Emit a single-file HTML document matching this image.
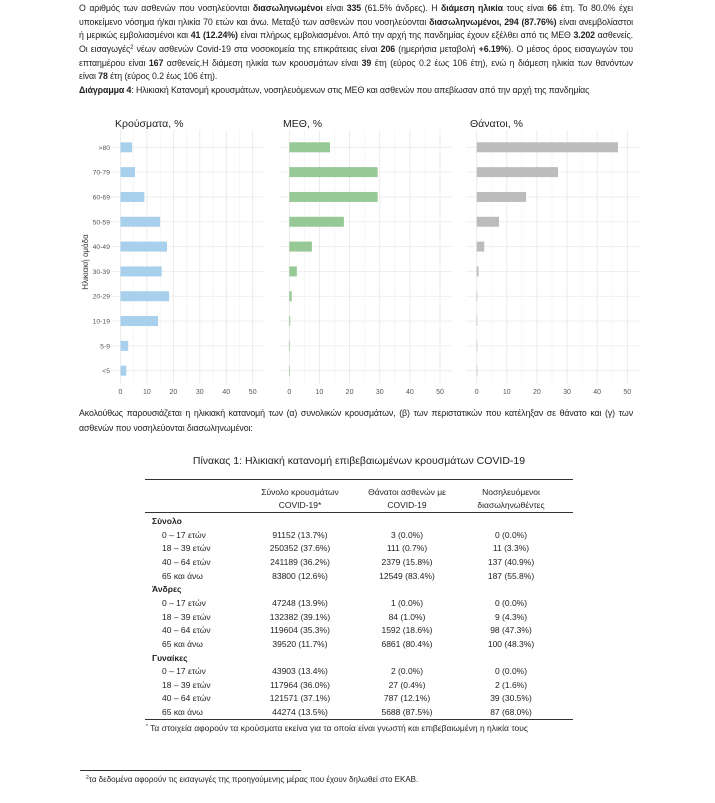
<!DOCTYPE html>
<html><head><meta charset="utf-8">
<style>
body{margin:0;width:715px;height:803px;background:#fff;position:relative;overflow:hidden;font-family:"Liberation Sans","DejaVu Sans",sans-serif;color:#222}
.ln{position:absolute;left:79px;width:554px;font-size:8.8px;line-height:12px;white-space:nowrap;text-align:justify;text-align-last:justify;letter-spacing:-0.1px}
.ln.l{text-align-last:left}
.t{position:absolute;font-size:9px;white-space:nowrap}
.c{text-align:center;transform:translateX(-50%)}
b{font-weight:bold}
sup{line-height:0;vertical-align:3px}
</style></head><body>
<div>
<div class="ln" style="top:2px">Ο αριθμός των ασθενών που νοσηλεύονται <b>διασωληνωμένοι</b> είναι <b>335</b> (61.5% άνδρες). Η <b>διάμεση ηλικία</b> τους είναι <b>66</b> έτη. Το 80.0% έχει</div>
<div class="ln" style="top:16px">υποκείμενο νόσημα ή/και ηλικία 70 ετών και άνω. Μεταξύ των ασθενών που νοσηλεύονται <b>διασωληνωμένοι, 294 (87.76%)</b> είναι ανεμβολίαστοι</div>
<div class="ln" style="top:29px">ή μερικώς εμβολιασμένοι και <b>41 (12.24%)</b> είναι πλήρως εμβολιασμένοι. Από την αρχή της πανδημίας έχουν εξέλθει από τις ΜΕΘ <b>3.202</b> ασθενείς.</div>
<div class="ln" style="top:43px">Οι εισαγωγές<sup style="font-size:6px">2</sup> νέων ασθενών Covid-19 στα νοσοκομεία της επικράτειας είναι <b>206</b> (ημερήσια μεταβολή <b>+6.19%</b>). Ο μέσος όρος εισαγωγών του</div>
<div class="ln" style="top:57px">επταημέρου είναι <b>167</b> ασθενείς.Η διάμεση ηλικία των κρουσμάτων είναι <b>39</b> έτη (εύρος 0.2 έως 106 έτη), ενώ η διάμεση ηλικία των θανόντων</div>
<div class="ln l" style="top:70px">είναι <b>78</b> έτη (εύρος 0.2 έως 106 έτη).</div>
<div class="ln l" style="top:84px"><b>Διάγραμμα 4</b>: Ηλικιακή Κατανομή κρουσμάτων, νοσηλευόμενων στις ΜΕΘ και ασθενών που απεβίωσαν από την αρχή της πανδημίας</div>
</div>

<svg id="chart" style="position:absolute;left:0;top:0" width="715" height="400"></svg>

<div>
<div class="ln" style="top:407px">Ακολούθως παρουσιάζεται η ηλικιακή κατανομή των (α) συνολικών κρουσμάτων, (β) των περιστατικών που κατέληξαν σε θάνατο και (γ) των</div>
<div class="ln l" style="top:422px">ασθενών που νοσηλεύονται διασωληνωμένοι:</div>
</div>

<div class="t c" style="left:359px;top:455px;font-size:10.5px">Πίνακας 1: Ηλικιακή κατανομή επιβεβαιωμένων κρουσμάτων COVID-19</div>
<div id="table"></div>

<div style="position:absolute;left:80px;top:770px;width:221px;border-top:1px solid #333"></div>
<div class="t" style="left:86px;top:775px;font-size:8px"><sup style="font-size:5px">2</sup>τα δεδομένα αφορούν τις εισαγωγές της προηγούμενης μέρας που έχουν δηλωθεί στο ΕΚΑΒ.</div>

<script>
const ageGroups=[">80","70-79","60-69","50-59","40-49","30-39","20-29","10-19","5-9","<5"];
const casesPct=[4.4,5.5,9.0,15.0,17.6,15.6,18.4,14.2,2.9,2.2];
const icuPct=[13.5,29.3,29.3,18.1,7.5,2.5,0.8,0.3,0.1,0.1];
const deathsPct=[46.9,27.0,16.4,7.4,2.5,0.6,0.2,0.2,0.05,0.1];
const xTicks=[0,10,20,30,40,50];
const panelTitles=["Κρούσματα, %","ΜΕΘ, %","Θάνατοι, %"];

const NS="http://www.w3.org/2000/svg";
const svg=document.getElementById('chart');
function mk(tag,attrs,parent){const e=document.createElementNS(NS,tag);for(const k in attrs)e.setAttribute(k,attrs[k]);(parent||svg).appendChild(e);return e;}
const panels=[{x0:120.5,x50:252.7,vals:casesPct,col:"#a8d0ec",name:"cases"},
 {x0:289.3,x50:440,vals:icuPct,col:"#96c995",name:"icu"},
 {x0:476.7,x50:627.3,vals:deathsPct,col:"#bcbcbc",name:"deaths"}];
const yTop=147.3,yStep=(370.7-147.3)/(ageGroups.length-1);
const yScale=i=>yTop+i*yStep;
panels.forEach((p,pi)=>{
  const xs=v=>p.x0+(p.x50-p.x0)*v/50;
  const g=mk('g',{});
  
  
  const left=xs(-3.5),right=xs(54);
  for(let v=0;v<=50;v+=5){const x=xs(v);mk('line',{x1:x,x2:x,y1:130,y2:383,stroke:v%10?"#f1f1f1":"#e6e6e6","stroke-width":v%10?0.6:0.8},g);}
  ageGroups.forEach((a,i)=>{const y=yScale(i);mk('line',{x1:left,x2:right,y1:y,y2:y,stroke:"#ebebeb","stroke-width":0.8},g);});
  ageGroups.forEach((a,i)=>{
    const y=yScale(i);
    const r=mk('rect',{x:xs(0),y:y-5,width:Math.max(0.6,xs(p.vals[i])-xs(0)),height:10,fill:p.col},g);
    
    
  });
  xTicks.forEach(v=>{const t=mk('text',{x:xs(v),y:394,"font-size":7,fill:"#555","text-anchor":"middle","font-family":"Liberation Sans"},g);t.textContent=v;});
  const tt=mk('text',{x:[115,283,470][pi],y:127,"font-size":10.5,fill:"#222","font-family":"Liberation Sans"},g);
  tt.textContent=panelTitles[pi];
  
  
});
ageGroups.forEach((a,i)=>{const t=mk('text',{x:110,y:yScale(i)+2.5,"font-size":6.8,fill:"#555","text-anchor":"end","font-family":"Liberation Sans"});t.textContent=a;});
const yt=mk('text',{x:0,y:0,"font-size":8,fill:"#333","text-anchor":"middle","font-family":"Liberation Sans",transform:"translate(88,262) rotate(-90)"});
yt.textContent="Ηλικιακή ομάδα";



// table
const tableRows=[
 ["Σύνολο"],
 ["0 – 17 ετών","91152 (13.7%)","3 (0.0%)","0 (0.0%)"],
 ["18 – 39 ετών","250352 (37.6%)","111 (0.7%)","11 (3.3%)"],
 ["40 – 64 ετών","241189 (36.2%)","2379 (15.8%)","137 (40.9%)"],
 ["65 και άνω","83800 (12.6%)","12549 (83.4%)","187 (55.8%)"],
 ["Άνδρες"],
 ["0 – 17 ετών","47248 (13.9%)","1 (0.0%)","0 (0.0%)"],
 ["18 – 39 ετών","132382 (39.1%)","84 (1.0%)","9 (4.3%)"],
 ["40 – 64 ετών","119604 (35.3%)","1592 (18.6%)","98 (47.3%)"],
 ["65 και άνω","39520 (11.7%)","6861 (80.4%)","100 (48.3%)"],
 ["Γυναίκες"],
 ["0 – 17 ετών","43903 (13.4%)","2 (0.0%)","0 (0.0%)"],
 ["18 – 39 ετών","117964 (36.0%)","27 (0.4%)","2 (1.6%)"],
 ["40 – 64 ετών","121571 (37.1%)","787 (12.1%)","39 (30.5%)"],
 ["65 και άνω","44274 (13.5%)","5688 (87.5%)","87 (68.0%)"]];
const tb=document.getElementById('table');
let h='';
h+='<div style="position:absolute;left:145px;top:479px;width:428px;border-top:1.3px solid #333"></div>';
h+='<div style="position:absolute;left:145px;top:512px;width:428px;border-top:1px solid #333"></div>';
h+='<div style="position:absolute;left:145px;top:719px;width:428px;border-top:1.3px solid #333"></div>';
const cx=[300,407,511];
const hd=[["Σύνολο κρουσμάτων","COVID-19*"],["Θάνατοι ασθενών με","COVID-19"],["Νοσηλευόμενοι","διασωληνωθέντες"]];
hd.forEach((l,i)=>{h+='<div class="t c" style="left:'+cx[i]+'px;top:486px;line-height:12.5px;font-size:8.5px;text-align:center">'+l[0]+'<br>'+l[1]+'</div>';});
tableRows.forEach((r,i)=>{
  const y=516+i*13.65;
  if(r.length==1){h+='<div class="t" style="left:152px;top:'+y+'px;font-weight:bold;font-size:8.5px">'+r[0]+'</div>';}
  else{h+='<div class="t" style="left:162px;top:'+y+'px;font-size:8.5px">'+r[0]+'</div>';
   for(let j=1;j<4;j++)h+='<div class="t c" style="left:'+cx[j-1]+'px;top:'+y+'px;font-size:8.5px">'+r[j]+'</div>';}
});
h+='<div class="t" style="left:146px;top:723px;font-size:8.5px"><sup style="font-size:5px">*</sup> Τα στοιχεία αφορούν τα κρούσματα εκείνα για τα οποία είναι γνωστή και επιβεβαιωμένη η ηλικία τους</div>';
tb.innerHTML=h;
</script>
</body></html>
